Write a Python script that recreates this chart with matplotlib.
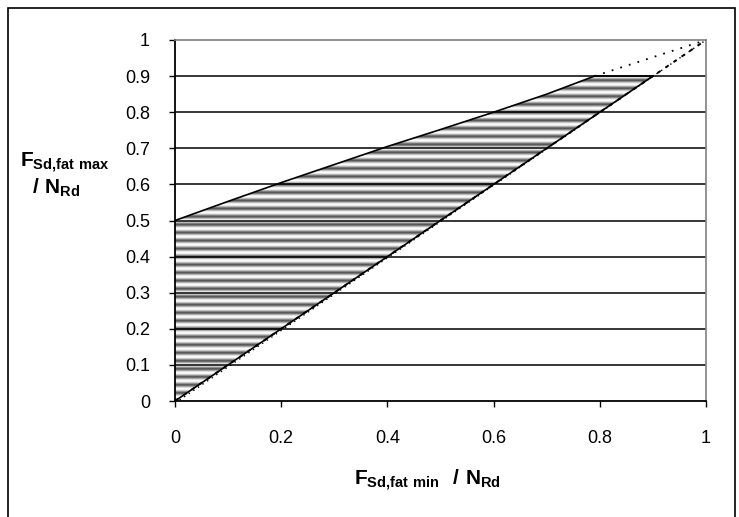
import matplotlib
matplotlib.use("Agg")
import matplotlib.pyplot as plt
import numpy as np
from matplotlib.patches import Polygon, Rectangle

plt.rcParams['font.family'] = ['Liberation Sans', 'DejaVu Sans']
plt.rcParams['mathtext.fontset'] = 'custom'
plt.rcParams['mathtext.rm'] = 'Liberation Sans'
plt.rcParams['mathtext.bf'] = 'Liberation Sans:bold'

# upper limit curve F_max / N_Rd versus F_min / N_Rd
upper_x = [0.0, 0.1, 0.2, 0.3, 0.4, 0.5, 0.6, 0.7, 0.79]
upper_y = [0.5, 0.553, 0.605, 0.655, 0.705, 0.752, 0.8, 0.85, 0.9]
# cap and lower limit (F_max = F_min)
cap_x = [0.79, 0.9]
cap_y = [0.9, 0.9]
diag_x = [0.0, 1.0]
diag_y = [0.0, 1.0]
dot_x = [0.79, 1.0]
dot_y = [0.9, 1.0]
xticks = [0, 0.2, 0.4, 0.6, 0.8, 1]
yticks = [0, 0.1, 0.2, 0.3, 0.4, 0.5, 0.6, 0.7, 0.8, 0.9, 1]

fig = plt.figure(figsize=(7.39, 5.17), dpi=100)
ax = fig.add_axes([175/739, 1 - 401/517, 531/739, 361/517])

# striped region
poly_x = upper_x + [0.9, 0.0]
poly_y = upper_y + [0.9, 0.0]
region = Polygon(np.column_stack([poly_x, poly_y]), closed=True,
                 facecolor='none', edgecolor='none')
ax.add_patch(region)
yy = np.linspace(0, 1, 1200)
period = 0.1 / 4.5
phase = (yy % period) / period
shade = 0.3 + 0.7 * np.abs(np.sin(np.pi * phase)) ** 1.4
img = np.tile(shade[:, None], (1, 10))
im = ax.imshow(img, extent=[0, 1, 0, 1], origin='lower', cmap='gray',
               vmin=0, vmax=1, aspect='auto', interpolation='bilinear', zorder=1)
im.set_clip_path(region)

for y in yticks[1:-1]:
    ax.axhline(y, color='black', lw=1.1, zorder=2)

ax.plot(upper_x, upper_y, color='black', lw=1.2, zorder=4)
ax.plot(cap_x, cap_y, color='black', lw=1.2, zorder=4)
ax.plot([0, 0.9], [0, 0.9], color='black', lw=1.2, zorder=4)
ax.plot(diag_x, diag_y, color='black', lw=1.4, ls=(0, (2, 3)), zorder=3)
ax.plot([0.0, 1.0], [-0.006, 1.0], color='black', lw=1.0, ls=(0, (1, 3)), zorder=3)
ax.plot(dot_x, dot_y, color='black', lw=1.3, ls=(0, (1, 4)), zorder=3)

ax.set_xlim(0, 1)
ax.set_ylim(0, 1)
ax.set_xticks(xticks)
ax.set_xticklabels(['0', '0.2', '0.4', '0.6', '0.8', '1'])
ax.set_yticks(yticks)
ax.set_yticklabels(['0', '0.1', '0.2', '0.3', '0.4', '0.5', '0.6', '0.7', '0.8', '0.9', '1'])
ax.tick_params(direction='out', length=4, width=1, labelsize=13)
ax.tick_params(axis='y', pad=14)
ax.tick_params(axis='x', pad=17)
for s in ['left', 'bottom']:
    ax.spines[s].set_linewidth(1.3)
for s in ['top', 'right']:
    ax.spines[s].set_color('#808080')
    ax.spines[s].set_linewidth(1.2)

fig.text(20/739, 1 - 167/517, r'$\mathbf{F}_{\mathbf{Sd{,}fat\ max}}$', fontsize=15)
fig.text(32/739, 1 - 193/517, r'$\mathbf{/\ N}_{\mathbf{Rd}}$', fontsize=15)
fig.text(427/739, 1 - 485/517,
         r'$\mathbf{F}_{\mathbf{Sd{,}fat\ min}}\ \ \mathbf{/\ N}_{\mathbf{Rd}}$',
         fontsize=15, ha='center')

fig.patches.append(Rectangle((8/739, -0.01), 727/739, 1 - 8/517 + 0.01,
                             transform=fig.transFigure, fill=False,
                             edgecolor='black', lw=1.2))

fig.savefig('out.png', dpi=100)
